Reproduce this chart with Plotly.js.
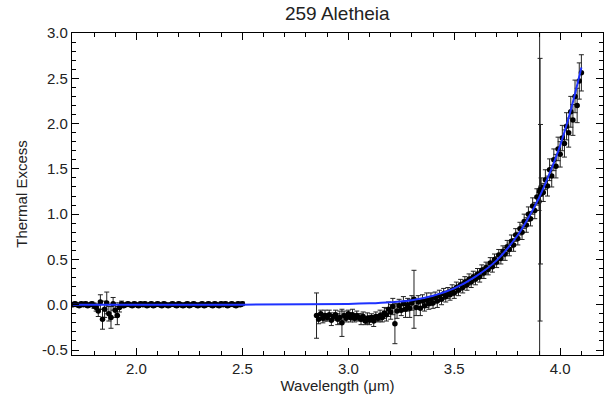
<!DOCTYPE html>
<html>
<head>
<meta charset="utf-8">
<script src="https://cdn.plot.ly/plotly-3.0.1.min.js"></script>
<style>html,body{margin:0;padding:0;background:#fff;}#chart{width:605px;height:404px;}</style>
</head>
<body>
<div id="chart"></div>
<script>
// Segment 1 (short-wavelength data)
var x1 = [1.70,1.71,1.72,1.73,1.74,1.75,1.76,1.77,1.78,1.79,1.80,1.81,1.82,1.83,1.84,1.85,1.86,1.87,1.88,1.89,
          1.90,1.91,1.92,1.93,1.94,1.95,1.96,1.97,1.98,1.99,2.00,2.01,2.02,2.03,2.04,2.05,2.06,2.07,2.08,2.09,
          2.10,2.11,2.12,2.13,2.14,2.15,2.16,2.17,2.18,2.19,2.20,2.21,2.22,2.23,2.24,2.25,2.26,2.27,2.28,2.29,
          2.30,2.31,2.32,2.33,2.34,2.35,2.36,2.37,2.38,2.39,2.40,2.41,2.42,2.43,2.44,2.45,2.46,2.47,2.48,2.49,2.50];
var y1 = [0.00,0.01,0.00,-0.01,0.01,0.00,0.01,-0.01,0.00,0.01,-0.01,-0.03,-0.07,0.03,-0.16,-0.05,0.02,-0.10,-0.14,0.01,
          -0.06,-0.12,-0.03,0.01,-0.01,0.00,0.01,0.00,-0.01,0.01,0.00,-0.01,0.01,0.00,0.01,-0.01,0.00,0.01,-0.01,0.00,
          0.01,0.00,-0.01,0.01,0.00,-0.01,0.00,0.01,0.00,-0.01,0.01,0.00,-0.01,0.00,0.01,-0.01,0.00,0.01,0.00,-0.01,
          0.00,0.01,-0.01,0.00,0.01,0.00,-0.01,0.01,0.00,-0.01,0.01,0.00,0.01,-0.01,0.00,0.01,0.00,-0.01,0.01,0.00,0.01];
var e1 = [0.02,0.02,0.02,0.02,0.02,0.02,0.02,0.02,0.02,0.02,0.03,0.04,0.06,0.08,0.11,0.09,0.12,0.08,0.12,0.07,
          0.08,0.10,0.05,0.03,0.02,0.02,0.02,0.02,0.02,0.02,0.02,0.02,0.02,0.02,0.02,0.02,0.02,0.02,0.02,0.02,
          0.02,0.02,0.02,0.02,0.02,0.02,0.02,0.02,0.02,0.02,0.02,0.02,0.02,0.02,0.02,0.02,0.02,0.02,0.02,0.02,
          0.02,0.02,0.02,0.02,0.02,0.02,0.02,0.02,0.02,0.02,0.02,0.02,0.02,0.02,0.02,0.02,0.02,0.02,0.02,0.02,0.02];

// Segment 2 (long-wavelength data)
var x2 = [2.85,2.86,2.87,2.88,2.89,2.90,2.91,2.92,2.93,2.94,2.95,2.96,2.97,2.98,2.99,
          3.00,3.01,3.02,3.03,3.04,3.05,3.06,3.07,3.08,3.09,3.10,3.11,3.12,3.13,3.14,3.15,3.16,3.17,3.18,3.19,
          3.20,3.21,3.22,3.23,3.24,3.25,3.26,3.27,3.28,3.29,3.30,3.31,3.32,3.33,3.34,3.35,3.36,3.37,3.38,3.39,
          3.40,3.41,3.42,3.43,3.44,3.45,3.46,3.47,3.48,3.49,3.50,3.51,3.52,3.53,3.54,3.55,3.56,3.57,3.58,3.59,
          3.60,3.61,3.62,3.63,3.64,3.65,3.66,3.67,3.68,3.69,3.70,3.71,3.72,3.73,3.74,3.75,3.76,3.77,3.78,3.79,
          3.80,3.81,3.82,3.83,3.84,3.85,3.86,3.87,3.88,3.89,3.90,3.91,3.92,3.93,3.94,3.95,3.96,3.97,3.98,3.99,
          4.00,4.01,4.02,4.03,4.04,4.05,4.06,4.07,4.08,4.09,4.10];
var y2 = [-0.12,-0.16,-0.10,-0.15,-0.12,-0.14,-0.11,-0.17,-0.13,-0.11,-0.16,-0.14,-0.20,-0.12,-0.15,
          -0.10,-0.14,-0.11,-0.15,-0.12,-0.14,-0.16,-0.13,-0.18,-0.15,-0.17,-0.14,-0.18,-0.13,-0.15,-0.12,-0.14,-0.09,-0.11,-0.05,
          -0.08,-0.02,-0.21,-0.07,-0.01,-0.06,0.01,-0.05,0.00,-0.04,0.02,0.06,-0.03,0.03,-0.04,0.04,-0.01,0.05,0.01,0.06,
          0.02,0.08,0.04,0.10,0.06,0.12,0.09,0.13,0.11,0.16,0.13,0.19,0.16,0.22,0.19,0.25,0.22,0.28,0.25,0.31,
          0.28,0.34,0.31,0.38,0.35,0.41,0.39,0.46,0.42,0.50,0.47,0.55,0.51,0.59,0.56,0.64,0.61,0.70,0.66,0.77,
          0.73,0.84,0.80,0.92,0.88,1.00,0.95,1.09,1.04,1.19,1.14,1.30,1.24,1.38,1.31,1.49,1.42,1.60,1.53,1.72,
          1.66,1.84,1.78,1.97,1.90,2.13,2.04,2.30,2.20,2.47,2.56];
var e2 = [0.25,0.05,0.04,0.05,0.06,0.04,0.05,0.06,0.04,0.05,0.06,0.07,0.15,0.05,0.04,
          0.04,0.05,0.06,0.04,0.05,0.04,0.06,0.05,0.04,0.06,0.05,0.04,0.06,0.05,0.04,0.06,0.05,0.06,0.07,0.08,
          0.08,0.09,0.22,0.08,0.07,0.06,0.08,0.09,0.07,0.10,0.08,0.32,0.09,0.07,0.08,0.07,0.06,0.08,0.06,0.07,
          0.06,0.06,0.07,0.06,0.06,0.06,0.06,0.06,0.06,0.06,0.06,0.06,0.06,0.06,0.06,0.06,0.06,0.06,0.06,0.06,
          0.06,0.06,0.06,0.06,0.06,0.06,0.06,0.06,0.06,0.06,0.06,0.06,0.06,0.06,0.07,0.07,0.07,0.07,0.07,0.07,
          0.07,0.07,0.08,0.08,0.08,0.08,0.08,0.09,0.09,0.09,0.10,0.10,0.10,0.11,0.11,0.12,0.12,0.12,0.13,0.13,
          0.14,0.14,0.15,0.15,0.16,0.17,0.17,0.18,0.19,0.20,0.20];

// Points near 3.9 um with very large uncertainties
var xOut = [3.903,3.905,3.907];
var yOut = [1.25,1.27,1.22];
var eOut = [2.20,1.45,0.77];

// Thermal model curve
var xModel = [1.70,2.00,2.50,2.80,3.00,3.10,3.20,3.30,3.40,3.50,3.60,3.70,3.80,3.85,3.90,3.95,4.00,4.05,4.10];
var yModel = [0.000,0.000,0.001,0.004,0.008,0.015,0.028,0.050,0.100,0.180,0.310,0.490,0.770,0.960,1.180,1.450,1.760,2.150,2.620];

var errStyle = function(arr){ return {type:'data', array:arr, visible:true, color:'#222', thickness:1, width:2.5}; };
var mk = {color:'#000', size:5.5, symbol:'circle'};

var traces = [
  {x:x1, y:y1, error_y:errStyle(e1), mode:'markers', type:'scatter', marker:mk, showlegend:false},
  {x:x2, y:y2, error_y:errStyle(e2), mode:'markers', type:'scatter', marker:mk, showlegend:false},
  {x:xOut, y:yOut, error_y:errStyle(eOut), mode:'markers', type:'scatter', marker:mk, showlegend:false},
  {x:xModel, y:yModel, mode:'lines', type:'scatter', line:{color:'#1e32ff', width:2, shape:'spline'}, showlegend:false}
];

var fontFam = 'Liberation Sans, Arial, sans-serif';
var layout = {
  width:605, height:404,
  margin:{l:72, r:2, t:33, b:49},
  paper_bgcolor:'#fff', plot_bgcolor:'#fff',
  font:{family:fontFam, size:15, color:'#222'},
  title:{text:'259 Aletheia', font:{family:fontFam, size:19, color:'#222'}, x:0.5575, xanchor:'center', y:0.967, yanchor:'middle'},
  xaxis:{
    range:[1.696,4.202], tickvals:[2.0,2.5,3.0,3.5,4.0], ticktext:['2.0','2.5','3.0','3.5','4.0'],
    ticks:'inside', ticklen:7, tickcolor:'#000', tickwidth:1,
    showline:true, linecolor:'#000', linewidth:1.2, mirror:'ticks', showgrid:false, zeroline:false,
    minor:{dtick:0.1, tick0:0, ticks:'inside', ticklen:4, tickcolor:'#000', showgrid:false},
    title:{text:'Wavelength (μm)', font:{family:fontFam, size:15, color:'#222'}, standoff:2},
    tickfont:{family:fontFam, size:15, color:'#222'}
  },
  yaxis:{
    range:[-0.555,3.0], tickvals:[-0.5,0.0,0.5,1.0,1.5,2.0,2.5,3.0], ticktext:['-0.5','0.0','0.5','1.0','1.5','2.0','2.5','3.0'],
    ticks:'inside', ticklen:7, tickcolor:'#000', tickwidth:1,
    showline:true, linecolor:'#000', linewidth:1.2, mirror:'ticks', showgrid:false, zeroline:false,
    minor:{dtick:0.1, tick0:0, ticks:'inside', ticklen:4, tickcolor:'#000', showgrid:false},
    title:{text:'Thermal Excess', font:{family:fontFam, size:15, color:'#222'}, standoff:10},
    tickfont:{family:fontFam, size:15, color:'#222'}
  }
};

Plotly.newPlot('chart', traces, layout, {staticPlot:true, displayModeBar:false});
</script>
</body>
</html>
